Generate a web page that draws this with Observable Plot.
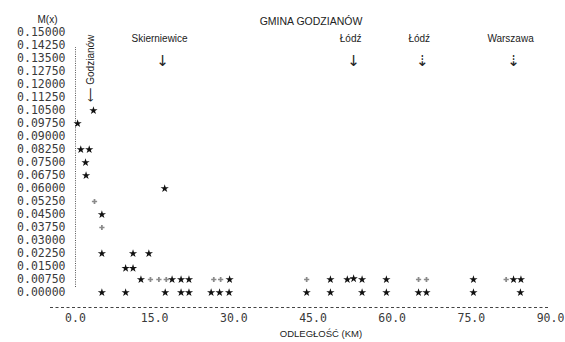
<!DOCTYPE html>
<html><head><meta charset="utf-8">
<script src="https://cdn.jsdelivr.net/npm/d3@7"></script>
<script src="https://cdn.jsdelivr.net/npm/@observablehq/plot@0.6"></script>
<style>body{margin:0;background:#fff}</style>
</head><body><div id="chart"></div>
<script>
// distances (km) and M(x) values of the solid markers
const distSolid = [0.4, 3.4, 1.0, 2.6, 1.9, 2.0, 16.9, 5.0, 5.0, 10.9, 13.9, 9.5, 10.9,
  12.4, 18.3, 20.0, 21.5, 29.2, 48.3, 51.5, 52.7, 54.3, 58.9, 75.4, 83.0, 84.4,
  5.0, 9.5, 17.0, 20.0, 21.5, 25.7, 27.3, 29.1, 43.8, 48.3, 54.3, 58.9, 65.0, 66.5, 75.4, 84.3];
const mSolid = [0.0975, 0.105, 0.0825, 0.0825, 0.075, 0.0675, 0.06, 0.045, 0.0225, 0.0225, 0.0225, 0.014, 0.014,
  0.0075, 0.0075, 0.0075, 0.0075, 0.0075, 0.0075, 0.0075, 0.008, 0.0075, 0.0075, 0.0075, 0.0075, 0.0075,
  0, 0, 0, 0, 0, 0, 0, 0, 0, 0, 0, 0, 0, 0, 0, 0];
// faint (lightly printed) markers
const distFaint = [3.6, 5.0, 14.2, 15.8, 17.2, 26.2, 27.5, 43.8, 65.0, 66.5, 81.6];
const mFaint = [0.0525, 0.0375, 0.0075, 0.0075, 0.0075, 0.0075, 0.0075, 0.0075, 0.0075, 0.0075, 0.0075];

const yTicks = d3.range(0, 21).map(i => i * 0.0075);
const xTicks = [0, 15, 30, 45, 60, 75, 90];
const places = ["Skierniewice", "Łódź", "Łódź", "Warszawa"];
const placeDist = [16.5, 52.7, 65.7, 83.0];
const placeArrow = ["↓", "↓", "⇣", "⇣"];

const solid = distSolid.map((d, i) => ({d, m: mSolid[i]}));
const faint = distFaint.map((d, i) => ({d, m: mFaint[i]}));
const towns = places.map((name, i) => ({name, d: placeDist[i], arrow: placeArrow[i]}));

const mono = "DejaVu Sans Mono";
const sans = "Liberation Sans";

const chart = Plot.plot({
  width: 565, height: 342,
  marginLeft: 75, marginRight: 15, marginTop: 32, marginBottom: 35,
  x: {domain: [0, 90]},
  y: {domain: [0, 0.15], insetBottom: 15},
  style: {fontFamily: mono, fontSize: "12px", color: "#333", background: "#fff"},
  marks: [
    Plot.ruleX([0], {y1: 0, y2: 0.15, insetTop: -5, insetBottom: -15, stroke: "#555", strokeDasharray: "1,1.3"}),
    Plot.ruleY([0], {x1: 0, x2: 90, dy: 15, insetLeft: -25, stroke: "#444", strokeDasharray: "3,2.5"}),
    Plot.axisY(yTicks, {tickSize: 0, tickPadding: 10, tickFormat: d => d.toFixed(5), label: null, fontFamily: mono, fontSize: 11.5, fill: "#3a3a3a"}),
    Plot.axisX(xTicks, {tickSize: 0, tickPadding: 6, tickFormat: d => d.toFixed(1), label: null, fontFamily: mono, fontSize: 11.5, fill: "#3a3a3a"}),
    Plot.dot(faint, {x: "d", y: "m", symbol: "cross", r: 2.2, fill: "#8a8a8a"}),
    Plot.dot(solid, {x: "d", y: "m", symbol: "star", r: 2.6, fill: "#111"}),
    Plot.text(towns, {x: "d", text: "name", frameAnchor: "top", dx: -3, dy: 2, fontFamily: sans, fontSize: 10, fill: "#222"}),
    Plot.text(towns, {x: "d", text: "arrow", frameAnchor: "top", dy: 23, fontFamily: "DejaVu Sans", fontSize: 15, fill: "#222"}),
    Plot.text(["⟵ Godzianów"], {x: [0], frameAnchor: "top", dx: 11, dy: 69, rotate: -90, textAnchor: "start", fontFamily: sans, fontSize: 10, fill: "#222"}),
    Plot.text(["GMINA GODZIANÓW"], {frameAnchor: "top", dx: -2, dy: -15, fontFamily: sans, fontSize: 10.5, fill: "#222"}),
    Plot.text(["M(x)"], {frameAnchor: "top-left", dx: -38, dy: -17, fontFamily: sans, fontSize: 10, fill: "#222"}),
    Plot.text(["ODLEGŁOŚĆ (KM)"], {frameAnchor: "bottom", dx: 8, dy: 29, fontFamily: sans, fontSize: 9.5, fill: "#222"})
  ]
});
document.getElementById("chart").appendChild(chart);
</script>
</body></html>
